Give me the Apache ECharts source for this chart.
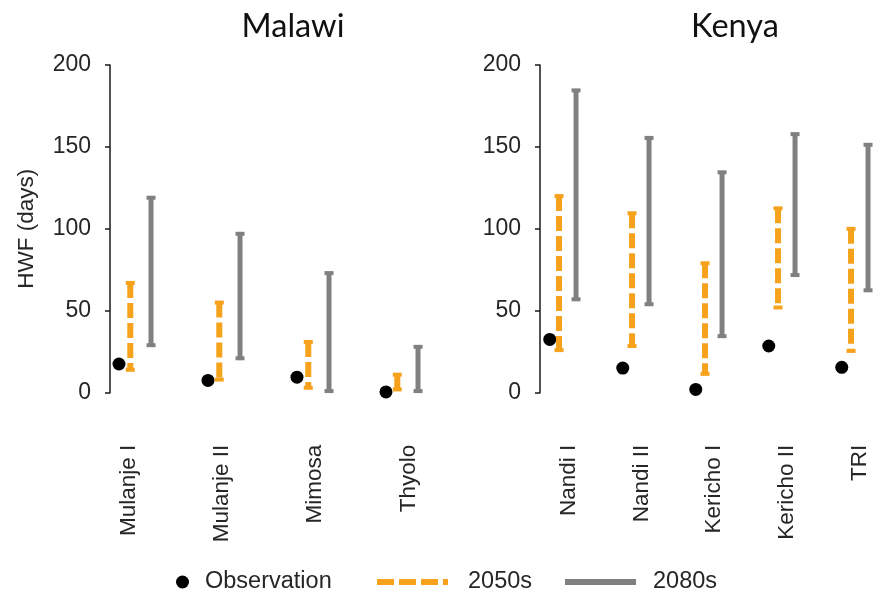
<!DOCTYPE html>
<html>
<head>
<meta charset="utf-8">
<script src="https://cdn.jsdelivr.net/npm/echarts@6/dist/echarts.min.js"></script>
<style>html,body{margin:0;padding:0;background:#fff}#c{width:896px;height:599px}</style>
</head>
<body>
<div id="c"></div>
<script>
const malawiSites = ['Mulanje I', 'Mulanje II', 'Mimosa', 'Thyolo'];
const malawiObs = [17.5, 7.5, 9.5, 0.5];
const malawi2050Low = [14, 8, 3, 2];
const malawi2050High = [67, 55, 31, 11];
const malawi2080Low = [29, 21, 1, 1];
const malawi2080High = [119, 97, 73, 28];

const kenyaSites = ['Nandi I', 'Nandi II', 'Kericho I', 'Kericho II', 'TRI'];
const kenyaObs = [32.5, 15, 2, 28.5, 15.5];
const kenya2050Low = [26, 28.5, 11.5, 52, 25.5];
const kenya2050High = [120, 109.5, 79, 112.5, 100];
const kenya2080Low = [57, 54, 34.5, 71.8, 62.5];
const kenya2080High = [184.5, 155.5, 134.5, 157.8, 151.3];

const yTicks = [0, 50, 100, 150, 200];
const seriesNames = ['Observation', '2050s', '2080s'];
const titles = ['Malawi', 'Kenya'];

const ORANGE = '#F6A21D';
const GREY = '#808080';
const TXT = '#262626';
const FONT = "'Liberation Sans', Arial, sans-serif";

function dotRender(frac) {
  return function (params, api) {
    const p = api.coord([api.value(0), api.value(1)]);
    const band = api.size([1, 0])[0];
    return { type: 'circle', shape: { cx: p[0] + band * frac, cy: p[1], r: 6.5 }, style: { fill: '#000' } };
  };
}
function rangeRender(frac, color, dash, lw) {
  return function (params, api) {
    const i = api.value(0);
    const top = api.coord([i, api.value(2)]);
    const bot = api.coord([i, api.value(1)]);
    const band = api.size([1, 0])[0];
    const x = top[0] + band * frac;
    return {
      type: 'group', children: [
        { type: 'line', shape: { x1: x, y1: top[1], x2: x, y2: bot[1] }, style: { stroke: color, lineWidth: lw, lineDash: dash } },
        { type: 'rect', shape: { x: x - 4.5, y: top[1] - 2, width: 9, height: 4 }, style: { fill: color } },
        { type: 'rect', shape: { x: x - 4.5, y: bot[1] - 2, width: 9, height: 4 }, style: { fill: color } }
      ]
    };
  };
}

function panelSeries(gridIdx, sites, obs, lo50, hi50, lo80, hi80) {
  return [
    { type: 'custom', name: seriesNames[0], xAxisIndex: gridIdx, yAxisIndex: gridIdx,
      itemStyle: { color: '#000' }, renderItem: dotRender(-0.18),
      encode: { x: 0, y: 1 }, data: sites.map((s, i) => [i, obs[i]]) },
    { type: 'custom', name: seriesNames[1], xAxisIndex: gridIdx, yAxisIndex: gridIdx,
      itemStyle: { color: ORANGE }, renderItem: rangeRender(-0.053, ORANGE, [15, 5], 6),
      encode: { x: 0, y: [1, 2] }, data: sites.map((s, i) => [i, lo50[i], hi50[i]]) },
    { type: 'custom', name: seriesNames[2], xAxisIndex: gridIdx, yAxisIndex: gridIdx,
      itemStyle: { color: GREY }, renderItem: rangeRender(0.18, GREY, null, 5),
      encode: { x: 0, y: [1, 2] }, data: sites.map((s, i) => [i, lo80[i], hi80[i]]) }
  ];
}

const plotTop = 65, plotH = 327.7;
const grids = [
  { left: 90.5, width: 356, top: plotTop, height: plotH },
  { left: 81.7, width: 373.3, top: plotTop, height: plotH },
  { left: 526.4, width: 365, top: plotTop, height: plotH },
  { left: 532.5, width: 375, top: plotTop, height: plotH }
];

function valueAxis(gridIdx, offset, show) {
  return {
    type: 'value', gridIndex: gridIdx, min: yTicks[0], max: yTicks[yTicks.length - 1], interval: 50,
    show: show, offset: offset,
    name: gridIdx === 0 ? 'HWF (days)' : '', nameLocation: 'middle', nameGap: 72,
    nameTextStyle: { fontFamily: FONT, fontSize: 22.5, color: TXT },
    axisLine: { show: true, lineStyle: { color: '#1a1a1a', width: 1.5 } },
    axisTick: { show: true, length: 5, lineStyle: { color: '#1a1a1a', width: 1.5 } },
    axisLabel: { fontFamily: FONT, fontSize: 23, color: TXT, margin: 19 },
    splitLine: { show: false }
  };
}
function markAxis(gridIdx, sites) {
  return { type: 'category', gridIndex: gridIdx, data: sites, show: false };
}
function labelAxis(gridIdx, sites) {
  return {
    type: 'category', gridIndex: gridIdx, data: sites,
    axisLine: { show: false }, axisTick: { show: false },
    axisLabel: { rotate: 90, margin: 52, fontFamily: FONT, fontSize: 22.5, color: TXT, interval: 0 }
  };
}

const legendText = { fontFamily: FONT, fontSize: 23.5, color: TXT };
const legendBase = { top: 570, padding: 0, orient: 'horizontal', selectedMode: false, textStyle: legendText };

const option = {
  animation: false,
  backgroundColor: '#fff',
  title: [
    { text: titles[0], left: 288, top: 5, textAlign: 'center', textStyle: { fontFamily: 'Lato', fontSize: 32.5, fontWeight: 'normal', color: '#111' } },
    { text: titles[1], left: 730, top: 5, textAlign: 'center', textStyle: { fontFamily: 'Lato', fontSize: 32.5, fontWeight: 'normal', color: '#111' } }
  ],
  grid: grids,
  xAxis: [markAxis(0, malawiSites), labelAxis(1, malawiSites), markAxis(2, kenyaSites), labelAxis(3, kenyaSites)],
  yAxis: [valueAxis(0, -19.5, true), valueAxis(1, 0, false), valueAxis(2, -13.6, true), valueAxis(3, 0, false)],
  legend: [
    Object.assign({}, legendBase, { left: 176, itemWidth: 31, itemHeight: 13,
      textStyle: Object.assign({}, legendText, { padding: [0, 0, 0, 2] }),
      data: [{ name: seriesNames[0], icon: 'circle' }] }),
    Object.assign({}, legendBase, { left: 377, itemWidth: 71, itemHeight: 6,
      textStyle: Object.assign({}, legendText, { padding: [0, 0, 0, 15] }),
      data: [{ name: seriesNames[1], icon: 'path://M0,0h17v6h-17z M22,0h17v6h-17z M44,0h17v6h-17z M66,0h5v6h-5z' }] }),
    Object.assign({}, legendBase, { left: 565, itemWidth: 71, itemHeight: 6,
      textStyle: Object.assign({}, legendText, { padding: [0, 0, 0, 12] }),
      data: [{ name: seriesNames[2], icon: 'rect' }] })
  ],
  series: [].concat(
    panelSeries(0, malawiSites, malawiObs, malawi2050Low, malawi2050High, malawi2080Low, malawi2080High),
    panelSeries(2, kenyaSites, kenyaObs, kenya2050Low, kenya2050High, kenya2080Low, kenya2080High)
  )
};

const chart = echarts.init(document.getElementById('c'), null, { renderer: 'canvas' });
chart.setOption(option);
</script>
</body>
</html>
